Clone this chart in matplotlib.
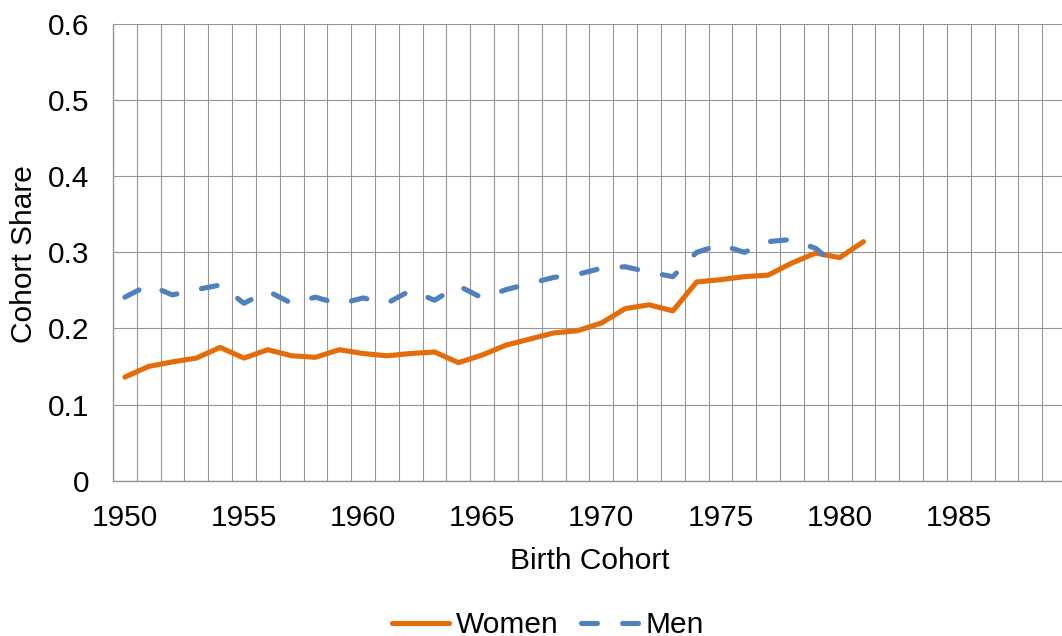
import matplotlib
matplotlib.use("Agg")
import matplotlib.pyplot as plt
from matplotlib.ticker import FixedLocator

plt.rcParams['font.family'] = ['Liberation Sans', 'DejaVu Sans']

# categories on the x axis (one per birth year)
years = list(range(1950, 1990))
tick_years = [1950, 1955, 1960, 1965, 1970, 1975, 1980, 1985]
y_ticks = [0, 0.1, 0.2, 0.3, 0.4, 0.5, 0.6]
y_labels = ['0', '0.1', '0.2', '0.3', '0.4', '0.5', '0.6']

# cohort shares
women = [0.136, 0.150, 0.156, 0.161, 0.175, 0.161, 0.172, 0.164, 0.162, 0.172,
         0.167, 0.164, 0.167, 0.169, 0.155, 0.165, 0.178, 0.186, 0.194, 0.197,
         0.207, 0.226, 0.231, 0.223, 0.261, 0.264, 0.268, 0.270, 0.286, 0.299,
         0.293, 0.314]
men = [0.241, 0.257, 0.244, 0.251, 0.257, 0.233, 0.249, 0.233, 0.241, 0.232,
       0.240, 0.233, 0.250, 0.237, 0.256, 0.240, 0.251, 0.259, 0.267, 0.271,
       0.279, 0.281, 0.274, 0.268, 0.300, 0.310, 0.300, 0.314, 0.317, 0.305,
       0.279]

orange = '#E46C0A'
blue = '#4F81BD'
grid_col = '#969696'
fs = 21.5
lw = 3.7

fig = plt.figure(figsize=(10.62, 6.36), dpi=100)
# the plot area runs a little past the right edge of the picture
ax = fig.add_axes([112.9 / 1062, 155.4 / 636, (1066 - 112.9) / 1062, 456.6 / 636])

xw = list(range(len(women)))
xm = list(range(len(men)))
ax.plot(xw, women, color=orange, lw=lw, solid_capstyle='round',
        solid_joinstyle='round', label='Women', zorder=3)
ax.plot(xm, men, color=blue, lw=lw, dashes=(3.1, 4.9), dash_capstyle='round',
        dash_joinstyle='round', label='Men', zorder=3)

ax.set_xlim(-0.5, len(years) - 0.5)
ax.set_ylim(0, 0.6)

ax.xaxis.set_major_locator(FixedLocator([years.index(y) for y in tick_years]))
ax.set_xticklabels([str(y) for y in tick_years])
ax.xaxis.set_minor_locator(FixedLocator([i - 0.5 for i in range(len(years) + 1)]))
ax.yaxis.set_major_locator(FixedLocator(y_ticks))
ax.set_yticklabels(y_labels)

ax.grid(which='minor', axis='x', color=grid_col, lw=0.8)
ax.grid(which='major', axis='y', color=grid_col, lw=0.8)
ax.set_axisbelow(True)

ax.tick_params(which='both', length=0)
ax.tick_params(axis='y', labelsize=fs, pad=17)
ax.tick_params(axis='x', labelsize=fs, pad=17)

for s in ['top', 'right']:
    ax.spines[s].set_visible(False)
for s in ['left', 'bottom']:
    ax.spines[s].set_color(grid_col)
    ax.spines[s].set_linewidth(1.0)

fig.text(590 / 1062, 1 - 561 / 636, 'Birth Cohort', ha='center', va='center', fontsize=fs)
fig.text(24 / 1062, 1 - 254 / 636, 'Cohort Share', ha='center', va='center',
         rotation=90, fontsize=fs)

leg = fig.legend(loc='center', bbox_to_anchor=(548 / 1062, 11 / 636), ncol=2,
                 frameon=False, fontsize=fs, handlelength=1.9, handletextpad=0.25,
                 columnspacing=0.75, borderpad=0, borderaxespad=0)

fig.savefig('out.png', dpi=100)
